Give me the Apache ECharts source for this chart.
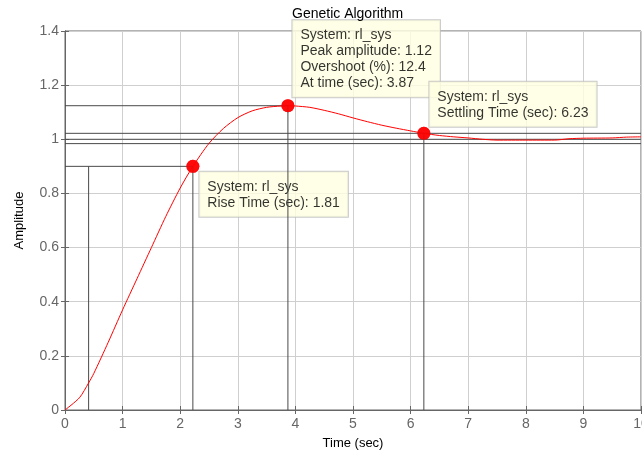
<!DOCTYPE html>
<html>
<head>
<meta charset="utf-8">
<script src="https://cdn.jsdelivr.net/npm/echarts@6/dist/echarts.min.js"></script>
<style>
  html, body { margin: 0; padding: 0; background: #fff; }
  #chart { width: 642px; height: 454px; }
</style>
</head>
<body>
<div id="chart"></div>
<script>
// Step response of rl_sys (controller tuned by genetic algorithm)
const time = [0, 0.25, 0.41, 0.5, 0.75, 1.0, 1.25, 1.5, 1.75, 2.0, 2.22, 2.5, 2.75, 3.0, 3.25, 3.5, 3.75, 3.87, 4.0, 4.25, 4.5, 4.75, 5.0, 5.25, 5.5, 5.75, 6.0, 6.23, 6.5, 6.75, 7.0, 7.25, 7.5, 8.0, 8.5, 8.75, 9.0, 9.5, 9.75, 10];
const amplitude = [0, 0.045, 0.10, 0.135, 0.25, 0.37, 0.485, 0.60, 0.715, 0.82, 0.90, 0.985, 1.04, 1.08, 1.105, 1.118, 1.123, 1.124, 1.123, 1.118, 1.107, 1.094, 1.079, 1.065, 1.052, 1.041, 1.031, 1.022, 1.014, 1.009, 1.005, 1.000, 0.997, 0.997, 0.997, 1.002, 1.004, 1.005, 1.008, 1.009];

// Step characteristics
const riseTimes = [0.41, 2.22];      // 10% and 90% crossings
const riseLevels = [0.1, 0.9];
const peakPoint = [3.87, 1.124];
const settlePoint = [6.23, 1.022];
const settleBand = [0.984, 1.022];
const finalValue = 1.0;
const systemName = 'rl_sys';

// Axis ticks: [min, max, interval]
const xTicks = [0, 10, 1];
const yTicks = [0, 1.4, 0.2];

const riseTime = riseTimes[1] - riseTimes[0];
const overshoot = (peakPoint[1] - finalValue) / finalValue * 100;

const FONT = 'Liberation Sans, Arial, sans-serif';
const LINE_COLOR = '#4a4a4a';

function seg(points) {
  return {
    type: 'line', data: points, symbol: 'none', silent: true, z: 3,
    lineStyle: { color: LINE_COLOR, width: 1 }, animation: false
  };
}

const tipStyle = {
  show: true,
  backgroundColor: '#ffffe1',
  borderColor: '#bdbdbd',
  borderWidth: 1,
  padding: [7, 8, 6, 8],
  color: '#000',
  fontSize: 14,
  lineHeight: 16,
  fontFamily: FONT,
  align: 'left',
  verticalAlign: 'top'
};

const tips = [
  {
    value: peakPoint,
    label: Object.assign({}, tipStyle, {
      position: [11, -79],
      formatter: [
        'System: ' + systemName,
        'Peak amplitude: ' + peakPoint[1].toFixed(2),
        'Overshoot (%): ' + overshoot.toFixed(1),
        'At time (sec): ' + peakPoint[0].toFixed(2)
      ].join('\n')
    })
  },
  {
    value: settlePoint,
    label: Object.assign({}, tipStyle, {
      position: [12, -45],
      formatter: ['System: ' + systemName, 'Settling Time (sec): ' + settlePoint[0].toFixed(2)].join('\n')
    })
  },
  {
    value: [riseTimes[1], riseLevels[1]],
    label: Object.assign({}, tipStyle, {
      position: [13, 12],
      formatter: ['System: ' + systemName, 'Rise Time (sec): ' + riseTime.toFixed(2)].join('\n')
    })
  }
];

const axisCommon = {
  type: 'value',
  axisLine: { show: true, lineStyle: { color: '#666', width: 1 } },
  axisTick: { show: true, inside: true, length: 4, lineStyle: { color: '#666' } }
};

const chart = echarts.init(document.getElementById('chart'), null, { renderer: 'canvas' });
chart.setOption({
  animation: false,
  backgroundColor: '#fff',
  title: {
    text: 'Genetic Algorithm',
    left: 292, top: 7, padding: 0,
    textStyle: { fontFamily: FONT, fontSize: 14, fontWeight: 'normal', color: '#000' }
  },
  grid: {
    left: 65, right: 1, top: 31, bottom: 44,
    outerBoundsMode: 'none',
    containLabel: false,
    show: true, borderColor: '#666', borderWidth: 1, backgroundColor: '#fff'
  },
  xAxis: [
    Object.assign({}, axisCommon, {
      position: 'bottom', min: xTicks[0], max: xTicks[1], interval: xTicks[2],
      name: 'Time (sec)', nameLocation: 'middle', nameGap: 27,
      nameTextStyle: { fontFamily: FONT, fontSize: 13, color: '#000' },
      axisLabel: { color: '#666', fontFamily: FONT, fontSize: 14, margin: 7, showMaxLabel: true },
      splitLine: { show: true, lineStyle: { color: '#cfcfcf', width: 1 } }
    }),
    Object.assign({}, axisCommon, {
      position: 'top', min: xTicks[0], max: xTicks[1], interval: xTicks[2],
      axisLabel: { show: false }, splitLine: { show: false }
    })
  ],
  yAxis: [
    Object.assign({}, axisCommon, {
      position: 'left', min: yTicks[0], max: yTicks[1], interval: yTicks[2],
      name: 'Amplitude', nameLocation: 'middle', nameGap: 39,
      nameTextStyle: { fontFamily: FONT, fontSize: 13, color: '#000' },
      axisLabel: { color: '#666', fontFamily: FONT, fontSize: 14, margin: 6 },
      splitLine: { show: true, lineStyle: { color: '#cfcfcf', width: 1 } }
    }),
    Object.assign({}, axisCommon, {
      position: 'right', min: yTicks[0], max: yTicks[1], interval: yTicks[2],
      axisLabel: { show: false }, splitLine: { show: false }
    })
  ],
  series: [
    // settling band and final value
    seg([[xTicks[0], settleBand[1]], [xTicks[1], settleBand[1]]]),
    seg([[xTicks[0], finalValue], [xTicks[1], finalValue]]),
    seg([[xTicks[0], settleBand[0]], [xTicks[1], settleBand[0]]]),
    // rise time
    seg([[riseTimes[0], 0], [riseTimes[0], riseLevels[1]]]),
    seg([[xTicks[0], riseLevels[1]], [riseTimes[1], riseLevels[1]]]),
    seg([[riseTimes[1], 0], [riseTimes[1], riseLevels[1]]]),
    // peak
    seg([[xTicks[0], peakPoint[1]], [peakPoint[0], peakPoint[1]]]),
    seg([[peakPoint[0], 0], [peakPoint[0], peakPoint[1]]]),
    // settling time
    seg([[settlePoint[0], 0], [settlePoint[0], settlePoint[1]]]),
    {
      name: systemName,
      type: 'line',
      data: time.map((t, i) => [t, amplitude[i]]),
      symbol: 'none',
      smooth: 0.25,
      z: 3,
      lineStyle: { color: '#ff0000', width: 1 }
    },
    // data tips (boxes sit beneath the characteristic lines)
    {
      type: 'scatter', z: 2, silent: true,
      symbol: 'circle', symbolSize: 13,
      itemStyle: { color: '#ff0000' },
      data: tips
    },
    // markers on top
    {
      type: 'scatter', z: 5, silent: true,
      symbol: 'circle', symbolSize: 13,
      itemStyle: { color: '#ff0000' },
      data: tips.map(d => d.value)
    }
  ]
});
</script>
</body>
</html>
